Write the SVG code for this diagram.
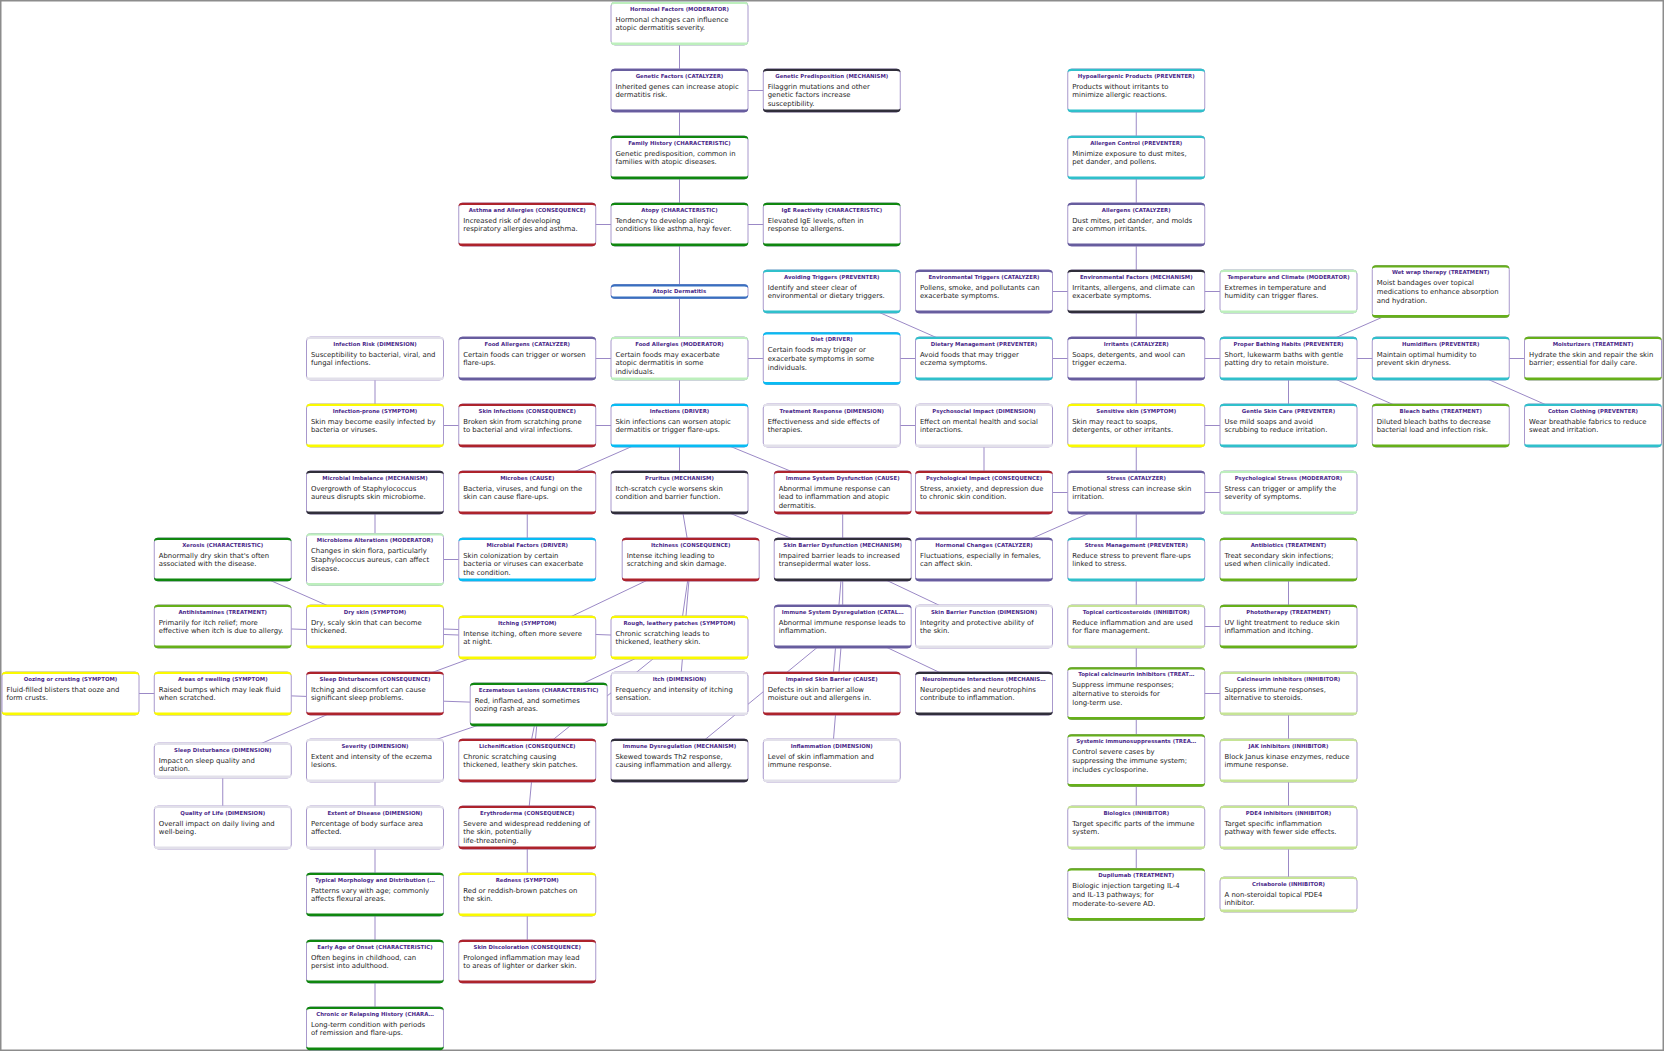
<svg xmlns="http://www.w3.org/2000/svg" width="1664" height="1051" viewBox="0 0 1664 1051">
<style>
.t{font-family:"DejaVu Sans",Verdana,sans-serif;font-size:5.4px;font-weight:bold;fill:#4b2a8a;text-anchor:middle}
.d{font-family:"DejaVu Sans",Verdana,sans-serif;font-size:6.9px;fill:#1e1e1e}
.moderator{fill:#bdefbd}.catalyzer{fill:#675d9e}.mechanism{fill:#302e3b}.characteristic{fill:#0f870f}
.consequence,.cause{fill:#ad232c}.preventer{fill:#30c0cb}.driver{fill:#07bcf3}.symptom{fill:#fafa00}
.dimension{fill:#e2e0ea}.treatment{fill:#66b01a}.inhibitor{fill:#c6e496}.root{fill:#3870c0}
#connectors line{stroke:#9b89c6;stroke-width:1}
</style>
<defs>
<path id="top" d="M0.2,4.2 Q0.2,0.2 4,0.2 H134 Q137.8,0.2 137.8,4.2 Q137.5,2.6 134,2.6 H4 Q0.5,2.6 0.2,4.2 Z"/>
<g id="b44"><rect x=".5" y=".5" width="137" height="43" rx="4" fill="#fff" stroke="#a898cc" stroke-width="1"/><use href="#top"/><path d="M0.2,39.8 Q0.2,43.8 4,43.8 H134 Q137.8,43.8 137.8,39.8 Q137.5,41 134,41 H4 Q0.5,41 0.2,39.8 Z"/></g>
<g id="b53"><rect x=".5" y=".5" width="137" height="52" rx="4" fill="#fff" stroke="#a898cc" stroke-width="1"/><use href="#top"/><path d="M0.2,48.8 Q0.2,52.8 4,52.8 H134 Q137.8,52.8 137.8,48.8 Q137.5,50 134,50 H4 Q0.5,50 0.2,48.8 Z"/></g>
<g id="b36"><rect x=".5" y=".5" width="137" height="35" rx="4" fill="#fff" stroke="#a898cc" stroke-width="1"/><use href="#top"/><path d="M0.2,31.8 Q0.2,35.8 4,35.8 H134 Q137.8,35.8 137.8,31.8 Q137.5,33 134,33 H4 Q0.5,33 0.2,31.8 Z"/></g>
<g id="b15"><rect x=".5" y=".5" width="137" height="14" rx="4" fill="#fff" stroke="#a898cc" stroke-width="1"/><use href="#top"/><path d="M0.2,10.8 Q0.2,14.8 4,14.8 H134 Q137.8,14.8 137.8,10.8 Q137.5,12.6 134,12.6 H4 Q0.5,12.6 0.2,10.8 Z"/></g>
</defs>
<rect x="0.75" y="0.75" width="1662.5" height="1049.5" fill="#fff" stroke="#8c8c8c" stroke-width="1.5"/>
<g id="connectors">
<line x1="679.5" y1="23.5" x2="679.5" y2="90.5"/>
<line x1="679.5" y1="90.5" x2="831.75" y2="90.5"/>
<line x1="679.5" y1="90.5" x2="679.5" y2="157.5"/>
<line x1="679.5" y1="157.5" x2="679.5" y2="224.5"/>
<line x1="527.25" y1="224.5" x2="679.5" y2="224.5"/>
<line x1="679.5" y1="224.5" x2="831.75" y2="224.5"/>
<line x1="679.5" y1="224.5" x2="679.5" y2="291.5"/>
<line x1="679.5" y1="291.5" x2="679.5" y2="358.5"/>
<line x1="1136.25" y1="90.5" x2="1136.25" y2="157.5"/>
<line x1="1136.25" y1="157.5" x2="1136.25" y2="224.5"/>
<line x1="1136.25" y1="224.5" x2="1136.25" y2="291.5"/>
<line x1="984" y1="291.5" x2="1136.25" y2="291.5"/>
<line x1="1136.25" y1="291.5" x2="1288.5" y2="291.5"/>
<line x1="1136.25" y1="291.5" x2="1136.25" y2="358.5"/>
<line x1="831.75" y1="291.5" x2="984" y2="358.5"/>
<line x1="527.25" y1="358.5" x2="679.5" y2="358.5"/>
<line x1="679.5" y1="358.5" x2="831.75" y2="358.5"/>
<line x1="831.75" y1="358.5" x2="984" y2="358.5"/>
<line x1="984" y1="358.5" x2="1136.25" y2="358.5"/>
<line x1="1136.25" y1="358.5" x2="1288.5" y2="358.5"/>
<line x1="1288.5" y1="358.5" x2="1440.75" y2="358.5"/>
<line x1="1440.75" y1="358.5" x2="1593" y2="358.5"/>
<line x1="1288.5" y1="358.5" x2="1440.75" y2="291.5"/>
<line x1="1288.5" y1="358.5" x2="1440.75" y2="425.5"/>
<line x1="1440.75" y1="358.5" x2="1593" y2="425.5"/>
<line x1="1288.5" y1="358.5" x2="1288.5" y2="425.5"/>
<line x1="1136.25" y1="358.5" x2="1136.25" y2="425.5"/>
<line x1="1136.25" y1="425.5" x2="1288.5" y2="425.5"/>
<line x1="375" y1="358.5" x2="375" y2="425.5"/>
<line x1="375" y1="425.5" x2="527.25" y2="425.5"/>
<line x1="527.25" y1="425.5" x2="679.5" y2="425.5"/>
<line x1="679.5" y1="358.5" x2="679.5" y2="425.5"/>
<line x1="679.5" y1="425.5" x2="527.25" y2="492.5"/>
<line x1="679.5" y1="425.5" x2="679.5" y2="492.5"/>
<line x1="679.5" y1="425.5" x2="842.7" y2="492.5"/>
<line x1="831.75" y1="425.5" x2="984" y2="425.5"/>
<line x1="984" y1="425.5" x2="984" y2="492.5"/>
<line x1="1136.25" y1="425.5" x2="1136.25" y2="492.5"/>
<line x1="984" y1="492.5" x2="1136.25" y2="492.5"/>
<line x1="1136.25" y1="492.5" x2="1288.5" y2="492.5"/>
<line x1="375" y1="492.5" x2="375" y2="559.5"/>
<line x1="527.25" y1="492.5" x2="527.25" y2="559.5"/>
<line x1="375" y1="559.5" x2="527.25" y2="559.5"/>
<line x1="679.5" y1="492.5" x2="690.7" y2="559.5"/>
<line x1="679.5" y1="492.5" x2="842.7" y2="559.5"/>
<line x1="842.7" y1="492.5" x2="842.7" y2="559.5"/>
<line x1="1136.25" y1="492.5" x2="984" y2="559.5"/>
<line x1="1136.25" y1="492.5" x2="1136.25" y2="559.5"/>
<line x1="222.75" y1="559.5" x2="375" y2="626.5"/>
<line x1="222.75" y1="626.5" x2="527.25" y2="637.5"/>
<line x1="375" y1="626.5" x2="679.5" y2="637.5"/>
<line x1="690.7" y1="559.5" x2="527.25" y2="637.5"/>
<line x1="690.7" y1="559.5" x2="679.5" y2="637.5"/>
<line x1="690.7" y1="559.5" x2="679.5" y2="693.5"/>
<line x1="842.7" y1="559.5" x2="842.7" y2="626.5"/>
<line x1="842.7" y1="559.5" x2="831.75" y2="693.5"/>
<line x1="842.7" y1="559.5" x2="984" y2="626.5"/>
<line x1="1136.25" y1="559.5" x2="1136.25" y2="626.5"/>
<line x1="1288.5" y1="559.5" x2="1288.5" y2="626.5"/>
<line x1="1136.25" y1="626.5" x2="1288.5" y2="626.5"/>
<line x1="70.5" y1="693.5" x2="222.75" y2="693.5"/>
<line x1="222.75" y1="693.5" x2="538.7" y2="704.5"/>
<line x1="527.25" y1="637.5" x2="375" y2="693.5"/>
<line x1="679.5" y1="637.5" x2="538.7" y2="704.5"/>
<line x1="679.5" y1="637.5" x2="527.25" y2="760.5"/>
<line x1="842.7" y1="626.5" x2="984" y2="693.5"/>
<line x1="842.7" y1="626.5" x2="831.75" y2="760.5"/>
<line x1="679.5" y1="760.5" x2="842.7" y2="626.5"/>
<line x1="1136.25" y1="626.5" x2="1136.25" y2="693.5"/>
<line x1="1136.25" y1="693.5" x2="1288.5" y2="693.5"/>
<line x1="1288.5" y1="693.5" x2="1288.5" y2="760.5"/>
<line x1="1288.5" y1="760.5" x2="1288.5" y2="827.5"/>
<line x1="1288.5" y1="827.5" x2="1288.5" y2="894.5"/>
<line x1="1136.25" y1="693.5" x2="1136.25" y2="760.5"/>
<line x1="1136.25" y1="760.5" x2="1136.25" y2="827.5"/>
<line x1="1136.25" y1="827.5" x2="1136.25" y2="894.5"/>
<line x1="375" y1="693.5" x2="222.75" y2="760.5"/>
<line x1="222.75" y1="760.5" x2="222.75" y2="827.5"/>
<line x1="538.7" y1="704.5" x2="375" y2="760.5"/>
<line x1="375" y1="760.5" x2="375" y2="827.5"/>
<line x1="375" y1="827.5" x2="375" y2="894.5"/>
<line x1="375" y1="894.5" x2="375" y2="961.5"/>
<line x1="375" y1="961.5" x2="375" y2="1028.5"/>
<line x1="538.7" y1="704.5" x2="527.25" y2="760.5"/>
<line x1="538.7" y1="704.5" x2="527.25" y2="827.5"/>
<line x1="527.25" y1="827.5" x2="527.25" y2="894.5"/>
<line x1="527.25" y1="894.5" x2="527.25" y2="961.5"/>
</g>
<g id="nodes">
<g id="hormonal-factors" class="moderator" transform="translate(610.5,1.5)"><use href="#b44"/><text class="t" x="69" y="9.3">Hormonal Factors (MODERATOR)</text><text class="d" y="20"><tspan x="5">Hormonal changes can influence</tspan><tspan x="5" dy="8.9">atopic dermatitis severity.</tspan></text></g>
<g id="genetic-factors" class="catalyzer" transform="translate(610.5,68.5)"><use href="#b44"/><text class="t" x="69" y="9.3">Genetic Factors (CATALYZER)</text><text class="d" y="20"><tspan x="5">Inherited genes can increase atopic</tspan><tspan x="5" dy="8.9">dermatitis risk.</tspan></text></g>
<g id="genetic-predisposition" class="mechanism" transform="translate(762.75,68.5)"><use href="#b44"/><text class="t" x="69" y="9.3">Genetic Predisposition (MECHANISM)</text><text class="d" y="20"><tspan x="5">Filaggrin mutations and other</tspan><tspan x="5" dy="8.9">genetic factors increase</tspan><tspan x="5" dy="8.9">susceptibility.</tspan></text></g>
<g id="hypoallergenic-products" class="preventer" transform="translate(1067.25,68.5)"><use href="#b44"/><text class="t" x="69" y="9.3">Hypoallergenic Products (PREVENTER)</text><text class="d" y="20"><tspan x="5">Products without irritants to</tspan><tspan x="5" dy="8.9">minimize allergic reactions.</tspan></text></g>
<g id="family-history" class="characteristic" transform="translate(610.5,135.5)"><use href="#b44"/><text class="t" x="69" y="9.3">Family History (CHARACTERISTIC)</text><text class="d" y="20"><tspan x="5">Genetic predisposition, common in</tspan><tspan x="5" dy="8.9">families with atopic diseases.</tspan></text></g>
<g id="allergen-control" class="preventer" transform="translate(1067.25,135.5)"><use href="#b44"/><text class="t" x="69" y="9.3">Allergen Control (PREVENTER)</text><text class="d" y="20"><tspan x="5">Minimize exposure to dust mites,</tspan><tspan x="5" dy="8.9">pet dander, and pollens.</tspan></text></g>
<g id="asthma-allergies" class="consequence" transform="translate(458.25,202.5)"><use href="#b44"/><text class="t" x="69" y="9.3">Asthma and Allergies (CONSEQUENCE)</text><text class="d" y="20"><tspan x="5">Increased risk of developing</tspan><tspan x="5" dy="8.9">respiratory allergies and asthma.</tspan></text></g>
<g id="atopy" class="characteristic" transform="translate(610.5,202.5)"><use href="#b44"/><text class="t" x="69" y="9.3">Atopy (CHARACTERISTIC)</text><text class="d" y="20"><tspan x="5">Tendency to develop allergic</tspan><tspan x="5" dy="8.9">conditions like asthma, hay fever.</tspan></text></g>
<g id="ige-reactivity" class="characteristic" transform="translate(762.75,202.5)"><use href="#b44"/><text class="t" x="69" y="9.3">IgE Reactivity (CHARACTERISTIC)</text><text class="d" y="20"><tspan x="5">Elevated IgE levels, often in</tspan><tspan x="5" dy="8.9">response to allergens.</tspan></text></g>
<g id="allergens" class="catalyzer" transform="translate(1067.25,202.5)"><use href="#b44"/><text class="t" x="69" y="9.3">Allergens (CATALYZER)</text><text class="d" y="20"><tspan x="5">Dust mites, pet dander, and molds</tspan><tspan x="5" dy="8.9">are common irritants.</tspan></text></g>
<g id="atopic-dermatitis" class="root" transform="translate(610.5,284)"><use href="#b15"/><text class="t" x="69" y="9.4">Atopic Dermatitis</text></g>
<g id="avoiding-triggers" class="preventer" transform="translate(762.75,269.5)"><use href="#b44"/><text class="t" x="69" y="9.3">Avoiding Triggers (PREVENTER)</text><text class="d" y="20"><tspan x="5">Identify and steer clear of</tspan><tspan x="5" dy="8.9">environmental or dietary triggers.</tspan></text></g>
<g id="environmental-triggers" class="catalyzer" transform="translate(915,269.5)"><use href="#b44"/><text class="t" x="69" y="9.3">Environmental Triggers (CATALYZER)</text><text class="d" y="20"><tspan x="5">Pollens, smoke, and pollutants can</tspan><tspan x="5" dy="8.9">exacerbate symptoms.</tspan></text></g>
<g id="environmental-factors" class="mechanism" transform="translate(1067.25,269.5)"><use href="#b44"/><text class="t" x="69" y="9.3">Environmental Factors (MECHANISM)</text><text class="d" y="20"><tspan x="5">Irritants, allergens, and climate can</tspan><tspan x="5" dy="8.9">exacerbate symptoms.</tspan></text></g>
<g id="temperature-climate" class="moderator" transform="translate(1219.5,269.5)"><use href="#b44"/><text class="t" x="69" y="9.3">Temperature and Climate (MODERATOR)</text><text class="d" y="20"><tspan x="5">Extremes in temperature and</tspan><tspan x="5" dy="8.9">humidity can trigger flares.</tspan></text></g>
<g id="wet-wrap-therapy" class="treatment" transform="translate(1371.75,265)"><use href="#b53"/><text class="t" x="69" y="9.3">Wet wrap therapy (TREATMENT)</text><text class="d" y="20"><tspan x="5">Moist bandages over topical</tspan><tspan x="5" dy="8.9">medications to enhance absorption</tspan><tspan x="5" dy="8.9">and hydration.</tspan></text></g>
<g id="infection-risk" class="dimension" transform="translate(306,336.5)"><use href="#b44"/><text class="t" x="69" y="9.3">Infection Risk (DIMENSION)</text><text class="d" y="20"><tspan x="5">Susceptibility to bacterial, viral, and</tspan><tspan x="5" dy="8.9">fungal infections.</tspan></text></g>
<g id="food-allergens" class="catalyzer" transform="translate(458.25,336.5)"><use href="#b44"/><text class="t" x="69" y="9.3">Food Allergens (CATALYZER)</text><text class="d" y="20"><tspan x="5">Certain foods can trigger or worsen</tspan><tspan x="5" dy="8.9">flare-ups.</tspan></text></g>
<g id="food-allergies" class="moderator" transform="translate(610.5,336.5)"><use href="#b44"/><text class="t" x="69" y="9.3">Food Allergies (MODERATOR)</text><text class="d" y="20"><tspan x="5">Certain foods may exacerbate</tspan><tspan x="5" dy="8.9">atopic dermatitis in some</tspan><tspan x="5" dy="8.9">individuals.</tspan></text></g>
<g id="diet" class="driver" transform="translate(762.75,332)"><use href="#b53"/><text class="t" x="69" y="9.3">Diet (DRIVER)</text><text class="d" y="20"><tspan x="5">Certain foods may trigger or</tspan><tspan x="5" dy="8.9">exacerbate symptoms in some</tspan><tspan x="5" dy="8.9">individuals.</tspan></text></g>
<g id="dietary-management" class="preventer" transform="translate(915,336.5)"><use href="#b44"/><text class="t" x="69" y="9.3">Dietary Management (PREVENTER)</text><text class="d" y="20"><tspan x="5">Avoid foods that may trigger</tspan><tspan x="5" dy="8.9">eczema symptoms.</tspan></text></g>
<g id="irritants" class="catalyzer" transform="translate(1067.25,336.5)"><use href="#b44"/><text class="t" x="69" y="9.3">Irritants (CATALYZER)</text><text class="d" y="20"><tspan x="5">Soaps, detergents, and wool can</tspan><tspan x="5" dy="8.9">trigger eczema.</tspan></text></g>
<g id="proper-bathing-habits" class="preventer" transform="translate(1219.5,336.5)"><use href="#b44"/><text class="t" x="69" y="9.3">Proper Bathing Habits (PREVENTER)</text><text class="d" y="20"><tspan x="5">Short, lukewarm baths with gentle</tspan><tspan x="5" dy="8.9">patting dry to retain moisture.</tspan></text></g>
<g id="humidifiers" class="preventer" transform="translate(1371.75,336.5)"><use href="#b44"/><text class="t" x="69" y="9.3">Humidifiers (PREVENTER)</text><text class="d" y="20"><tspan x="5">Maintain optimal humidity to</tspan><tspan x="5" dy="8.9">prevent skin dryness.</tspan></text></g>
<g id="moisturizers" class="treatment" transform="translate(1524,336.5)"><use href="#b44"/><text class="t" x="69" y="9.3">Moisturizers (TREATMENT)</text><text class="d" y="20"><tspan x="5">Hydrate the skin and repair the skin</tspan><tspan x="5" dy="8.9">barrier; essential for daily care.</tspan></text></g>
<g id="infection-prone" class="symptom" transform="translate(306,403.5)"><use href="#b44"/><text class="t" x="69" y="9.3">Infection-prone (SYMPTOM)</text><text class="d" y="20"><tspan x="5">Skin may become easily infected by</tspan><tspan x="5" dy="8.9">bacteria or viruses.</tspan></text></g>
<g id="skin-infections" class="consequence" transform="translate(458.25,403.5)"><use href="#b44"/><text class="t" x="69" y="9.3">Skin Infections (CONSEQUENCE)</text><text class="d" y="20"><tspan x="5">Broken skin from scratching prone</tspan><tspan x="5" dy="8.9">to bacterial and viral infections.</tspan></text></g>
<g id="infections" class="driver" transform="translate(610.5,403.5)"><use href="#b44"/><text class="t" x="69" y="9.3">Infections (DRIVER)</text><text class="d" y="20"><tspan x="5">Skin infections can worsen atopic</tspan><tspan x="5" dy="8.9">dermatitis or trigger flare-ups.</tspan></text></g>
<g id="treatment-response" class="dimension" transform="translate(762.75,403.5)"><use href="#b44"/><text class="t" x="69" y="9.3">Treatment Response (DIMENSION)</text><text class="d" y="20"><tspan x="5">Effectiveness and side effects of</tspan><tspan x="5" dy="8.9">therapies.</tspan></text></g>
<g id="psychosocial-impact" class="dimension" transform="translate(915,403.5)"><use href="#b44"/><text class="t" x="69" y="9.3">Psychosocial Impact (DIMENSION)</text><text class="d" y="20"><tspan x="5">Effect on mental health and social</tspan><tspan x="5" dy="8.9">interactions.</tspan></text></g>
<g id="sensitive-skin" class="symptom" transform="translate(1067.25,403.5)"><use href="#b44"/><text class="t" x="69" y="9.3">Sensitive skin (SYMPTOM)</text><text class="d" y="20"><tspan x="5">Skin may react to soaps,</tspan><tspan x="5" dy="8.9">detergents, or other irritants.</tspan></text></g>
<g id="gentle-skin-care" class="preventer" transform="translate(1219.5,403.5)"><use href="#b44"/><text class="t" x="69" y="9.3">Gentle Skin Care (PREVENTER)</text><text class="d" y="20"><tspan x="5">Use mild soaps and avoid</tspan><tspan x="5" dy="8.9">scrubbing to reduce irritation.</tspan></text></g>
<g id="bleach-baths" class="treatment" transform="translate(1371.75,403.5)"><use href="#b44"/><text class="t" x="69" y="9.3">Bleach baths (TREATMENT)</text><text class="d" y="20"><tspan x="5">Diluted bleach baths to decrease</tspan><tspan x="5" dy="8.9">bacterial load and infection risk.</tspan></text></g>
<g id="cotton-clothing" class="preventer" transform="translate(1524,403.5)"><use href="#b44"/><text class="t" x="69" y="9.3">Cotton Clothing (PREVENTER)</text><text class="d" y="20"><tspan x="5">Wear breathable fabrics to reduce</tspan><tspan x="5" dy="8.9">sweat and irritation.</tspan></text></g>
<g id="microbial-imbalance" class="mechanism" transform="translate(306,470.5)"><use href="#b44"/><text class="t" x="69" y="9.3">Microbial Imbalance (MECHANISM)</text><text class="d" y="20"><tspan x="5">Overgrowth of Staphylococcus</tspan><tspan x="5" dy="8.9">aureus disrupts skin microbiome.</tspan></text></g>
<g id="microbes" class="cause" transform="translate(458.25,470.5)"><use href="#b44"/><text class="t" x="69" y="9.3">Microbes (CAUSE)</text><text class="d" y="20"><tspan x="5">Bacteria, viruses, and fungi on the</tspan><tspan x="5" dy="8.9">skin can cause flare-ups.</tspan></text></g>
<g id="pruritus" class="mechanism" transform="translate(610.5,470.5)"><use href="#b44"/><text class="t" x="69" y="9.3">Pruritus (MECHANISM)</text><text class="d" y="20"><tspan x="5">Itch-scratch cycle worsens skin</tspan><tspan x="5" dy="8.9">condition and barrier function.</tspan></text></g>
<g id="immune-system-dysfunction" class="cause" transform="translate(773.7,470.5)"><use href="#b44"/><text class="t" x="69" y="9.3">Immune System Dysfunction (CAUSE)</text><text class="d" y="20"><tspan x="5">Abnormal immune response can</tspan><tspan x="5" dy="8.9">lead to inflammation and atopic</tspan><tspan x="5" dy="8.9">dermatitis.</tspan></text></g>
<g id="psychological-impact" class="consequence" transform="translate(915,470.5)"><use href="#b44"/><text class="t" x="69" y="9.3">Psychological Impact (CONSEQUENCE)</text><text class="d" y="20"><tspan x="5">Stress, anxiety, and depression due</tspan><tspan x="5" dy="8.9">to chronic skin condition.</tspan></text></g>
<g id="stress" class="catalyzer" transform="translate(1067.25,470.5)"><use href="#b44"/><text class="t" x="69" y="9.3">Stress (CATALYZER)</text><text class="d" y="20"><tspan x="5">Emotional stress can increase skin</tspan><tspan x="5" dy="8.9">irritation.</tspan></text></g>
<g id="psychological-stress" class="moderator" transform="translate(1219.5,470.5)"><use href="#b44"/><text class="t" x="69" y="9.3">Psychological Stress (MODERATOR)</text><text class="d" y="20"><tspan x="5">Stress can trigger or amplify the</tspan><tspan x="5" dy="8.9">severity of symptoms.</tspan></text></g>
<g id="xerosis" class="characteristic" transform="translate(153.75,537.5)"><use href="#b44"/><text class="t" x="69" y="9.3">Xerosis (CHARACTERISTIC)</text><text class="d" y="20"><tspan x="5">Abnormally dry skin that's often</tspan><tspan x="5" dy="8.9">associated with the disease.</tspan></text></g>
<g id="microbiome-alterations" class="moderator" transform="translate(306,533)"><use href="#b53"/><text class="t" x="69" y="9.3">Microbiome Alterations (MODERATOR)</text><text class="d" y="20"><tspan x="5">Changes in skin flora, particularly</tspan><tspan x="5" dy="8.9">Staphylococcus aureus, can affect</tspan><tspan x="5" dy="8.9">disease.</tspan></text></g>
<g id="microbial-factors" class="driver" transform="translate(458.25,537.5)"><use href="#b44"/><text class="t" x="69" y="9.3">Microbial Factors (DRIVER)</text><text class="d" y="20"><tspan x="5">Skin colonization by certain</tspan><tspan x="5" dy="8.9">bacteria or viruses can exacerbate</tspan><tspan x="5" dy="8.9">the condition.</tspan></text></g>
<g id="itchiness" class="consequence" transform="translate(621.7,537.5)"><use href="#b44"/><text class="t" x="69" y="9.3">Itchiness (CONSEQUENCE)</text><text class="d" y="20"><tspan x="5">Intense itching leading to</tspan><tspan x="5" dy="8.9">scratching and skin damage.</tspan></text></g>
<g id="skin-barrier-dysfunction" class="mechanism" transform="translate(773.7,537.5)"><use href="#b44"/><text class="t" x="69" y="9.3">Skin Barrier Dysfunction (MECHANISM)</text><text class="d" y="20"><tspan x="5">Impaired barrier leads to increased</tspan><tspan x="5" dy="8.9">transepidermal water loss.</tspan></text></g>
<g id="hormonal-changes" class="catalyzer" transform="translate(915,537.5)"><use href="#b44"/><text class="t" x="69" y="9.3">Hormonal Changes (CATALYZER)</text><text class="d" y="20"><tspan x="5">Fluctuations, especially in females,</tspan><tspan x="5" dy="8.9">can affect skin.</tspan></text></g>
<g id="stress-management" class="preventer" transform="translate(1067.25,537.5)"><use href="#b44"/><text class="t" x="69" y="9.3">Stress Management (PREVENTER)</text><text class="d" y="20"><tspan x="5">Reduce stress to prevent flare-ups</tspan><tspan x="5" dy="8.9">linked to stress.</tspan></text></g>
<g id="antibiotics" class="treatment" transform="translate(1219.5,537.5)"><use href="#b44"/><text class="t" x="69" y="9.3">Antibiotics (TREATMENT)</text><text class="d" y="20"><tspan x="5">Treat secondary skin infections;</tspan><tspan x="5" dy="8.9">used when clinically indicated.</tspan></text></g>
<g id="antihistamines" class="treatment" transform="translate(153.75,604.5)"><use href="#b44"/><text class="t" x="69" y="9.3">Antihistamines (TREATMENT)</text><text class="d" y="20"><tspan x="5">Primarily for itch relief; more</tspan><tspan x="5" dy="8.9">effective when itch is due to allergy.</tspan></text></g>
<g id="dry-skin" class="symptom" transform="translate(306,604.5)"><use href="#b44"/><text class="t" x="69" y="9.3">Dry skin (SYMPTOM)</text><text class="d" y="20"><tspan x="5">Dry, scaly skin that can become</tspan><tspan x="5" dy="8.9">thickened.</tspan></text></g>
<g id="itching" class="symptom" transform="translate(458.25,615.5)"><use href="#b44"/><text class="t" x="69" y="9.3">Itching (SYMPTOM)</text><text class="d" y="20"><tspan x="5">Intense itching, often more severe</tspan><tspan x="5" dy="8.9">at night.</tspan></text></g>
<g id="rough-leathery-patches" class="symptom" transform="translate(610.5,615.5)"><use href="#b44"/><text class="t" x="69" y="9.3">Rough, leathery patches (SYMPTOM)</text><text class="d" y="20"><tspan x="5">Chronic scratching leads to</tspan><tspan x="5" dy="8.9">thickened, leathery skin.</tspan></text></g>
<g id="immune-system-dysregulation" class="catalyzer" transform="translate(773.7,604.5)"><use href="#b44"/><text class="t" x="69" y="9.3">Immune System Dysregulation (CATAL…</text><text class="d" y="20"><tspan x="5">Abnormal immune response leads to</tspan><tspan x="5" dy="8.9">inflammation.</tspan></text></g>
<g id="skin-barrier-function" class="dimension" transform="translate(915,604.5)"><use href="#b44"/><text class="t" x="69" y="9.3">Skin Barrier Function (DIMENSION)</text><text class="d" y="20"><tspan x="5">Integrity and protective ability of</tspan><tspan x="5" dy="8.9">the skin.</tspan></text></g>
<g id="topical-corticosteroids" class="inhibitor" transform="translate(1067.25,604.5)"><use href="#b44"/><text class="t" x="69" y="9.3">Topical corticosteroids (INHIBITOR)</text><text class="d" y="20"><tspan x="5">Reduce inflammation and are used</tspan><tspan x="5" dy="8.9">for flare management.</tspan></text></g>
<g id="phototherapy" class="treatment" transform="translate(1219.5,604.5)"><use href="#b44"/><text class="t" x="69" y="9.3">Phototherapy (TREATMENT)</text><text class="d" y="20"><tspan x="5">UV light treatment to reduce skin</tspan><tspan x="5" dy="8.9">inflammation and itching.</tspan></text></g>
<g id="oozing-crusting" class="symptom" transform="translate(1.5,671.5)"><use href="#b44"/><text class="t" x="69" y="9.3">Oozing or crusting (SYMPTOM)</text><text class="d" y="20"><tspan x="5">Fluid-filled blisters that ooze and</tspan><tspan x="5" dy="8.9">form crusts.</tspan></text></g>
<g id="areas-of-swelling" class="symptom" transform="translate(153.75,671.5)"><use href="#b44"/><text class="t" x="69" y="9.3">Areas of swelling (SYMPTOM)</text><text class="d" y="20"><tspan x="5">Raised bumps which may leak fluid</tspan><tspan x="5" dy="8.9">when scratched.</tspan></text></g>
<g id="sleep-disturbances" class="consequence" transform="translate(306,671.5)"><use href="#b44"/><text class="t" x="69" y="9.3">Sleep Disturbances (CONSEQUENCE)</text><text class="d" y="20"><tspan x="5">Itching and discomfort can cause</tspan><tspan x="5" dy="8.9">significant sleep problems.</tspan></text></g>
<g id="eczematous-lesions" class="characteristic" transform="translate(469.7,682.5)"><use href="#b44"/><text class="t" x="69" y="9.3">Eczematous Lesions (CHARACTERISTIC)</text><text class="d" y="20"><tspan x="5">Red, inflamed, and sometimes</tspan><tspan x="5" dy="8.9">oozing rash areas.</tspan></text></g>
<g id="itch" class="dimension" transform="translate(610.5,671.5)"><use href="#b44"/><text class="t" x="69" y="9.3">Itch (DIMENSION)</text><text class="d" y="20"><tspan x="5">Frequency and intensity of itching</tspan><tspan x="5" dy="8.9">sensation.</tspan></text></g>
<g id="impaired-skin-barrier" class="cause" transform="translate(762.75,671.5)"><use href="#b44"/><text class="t" x="69" y="9.3">Impaired Skin Barrier (CAUSE)</text><text class="d" y="20"><tspan x="5">Defects in skin barrier allow</tspan><tspan x="5" dy="8.9">moisture out and allergens in.</tspan></text></g>
<g id="neuroimmune-interactions" class="mechanism" transform="translate(915,671.5)"><use href="#b44"/><text class="t" x="69" y="9.3">Neuroimmune Interactions (MECHANIS…</text><text class="d" y="20"><tspan x="5">Neuropeptides and neurotrophins</tspan><tspan x="5" dy="8.9">contribute to inflammation.</tspan></text></g>
<g id="topical-calcineurin-inhibitors" class="treatment" transform="translate(1067.25,667)"><use href="#b53"/><text class="t" x="69" y="9.3">Topical calcineurin inhibitors (TREAT…</text><text class="d" y="20"><tspan x="5">Suppress immune responses;</tspan><tspan x="5" dy="8.9">alternative to steroids for</tspan><tspan x="5" dy="8.9">long-term use.</tspan></text></g>
<g id="calcineurin-inhibitors" class="inhibitor" transform="translate(1219.5,671.5)"><use href="#b44"/><text class="t" x="69" y="9.3">Calcineurin inhibitors (INHIBITOR)</text><text class="d" y="20"><tspan x="5">Suppress immune responses,</tspan><tspan x="5" dy="8.9">alternative to steroids.</tspan></text></g>
<g id="sleep-disturbance" class="dimension" transform="translate(153.75,742.5)"><use href="#b36"/><text class="t" x="69" y="9.3">Sleep Disturbance (DIMENSION)</text><text class="d" y="20"><tspan x="5">Impact on sleep quality and</tspan><tspan x="5" dy="8.9">duration.</tspan></text></g>
<g id="severity" class="dimension" transform="translate(306,738.5)"><use href="#b44"/><text class="t" x="69" y="9.3">Severity (DIMENSION)</text><text class="d" y="20"><tspan x="5">Extent and intensity of the eczema</tspan><tspan x="5" dy="8.9">lesions.</tspan></text></g>
<g id="lichenification" class="consequence" transform="translate(458.25,738.5)"><use href="#b44"/><text class="t" x="69" y="9.3">Lichenification (CONSEQUENCE)</text><text class="d" y="20"><tspan x="5">Chronic scratching causing</tspan><tspan x="5" dy="8.9">thickened, leathery skin patches.</tspan></text></g>
<g id="immune-dysregulation" class="mechanism" transform="translate(610.5,738.5)"><use href="#b44"/><text class="t" x="69" y="9.3">Immune Dysregulation (MECHANISM)</text><text class="d" y="20"><tspan x="5">Skewed towards Th2 response,</tspan><tspan x="5" dy="8.9">causing inflammation and allergy.</tspan></text></g>
<g id="inflammation" class="dimension" transform="translate(762.75,738.5)"><use href="#b44"/><text class="t" x="69" y="9.3">Inflammation (DIMENSION)</text><text class="d" y="20"><tspan x="5">Level of skin inflammation and</tspan><tspan x="5" dy="8.9">immune response.</tspan></text></g>
<g id="systemic-immunosuppressants" class="treatment" transform="translate(1067.25,734)"><use href="#b53"/><text class="t" x="69" y="9.3">Systemic immunosuppressants (TREA…</text><text class="d" y="20"><tspan x="5">Control severe cases by</tspan><tspan x="5" dy="8.9">suppressing the immune system;</tspan><tspan x="5" dy="8.9">includes cyclosporine.</tspan></text></g>
<g id="jak-inhibitors" class="inhibitor" transform="translate(1219.5,738.5)"><use href="#b44"/><text class="t" x="69" y="9.3">JAK inhibitors (INHIBITOR)</text><text class="d" y="20"><tspan x="5">Block Janus kinase enzymes, reduce</tspan><tspan x="5" dy="8.9">immune response.</tspan></text></g>
<g id="quality-of-life" class="dimension" transform="translate(153.75,805.5)"><use href="#b44"/><text class="t" x="69" y="9.3">Quality of Life (DIMENSION)</text><text class="d" y="20"><tspan x="5">Overall impact on daily living and</tspan><tspan x="5" dy="8.9">well-being.</tspan></text></g>
<g id="extent-of-disease" class="dimension" transform="translate(306,805.5)"><use href="#b44"/><text class="t" x="69" y="9.3">Extent of Disease (DIMENSION)</text><text class="d" y="20"><tspan x="5">Percentage of body surface area</tspan><tspan x="5" dy="8.9">affected.</tspan></text></g>
<g id="erythroderma" class="consequence" transform="translate(458.25,805.5)"><use href="#b44"/><text class="t" x="69" y="9.3">Erythroderma (CONSEQUENCE)</text><text class="d" y="20"><tspan x="5">Severe and widespread reddening of</tspan><tspan x="5" dy="8.9">the skin, potentially</tspan><tspan x="5" dy="8.9">life-threatening.</tspan></text></g>
<g id="biologics" class="inhibitor" transform="translate(1067.25,805.5)"><use href="#b44"/><text class="t" x="69" y="9.3">Biologics (INHIBITOR)</text><text class="d" y="20"><tspan x="5">Target specific parts of the immune</tspan><tspan x="5" dy="8.9">system.</tspan></text></g>
<g id="pde4-inhibitors" class="inhibitor" transform="translate(1219.5,805.5)"><use href="#b44"/><text class="t" x="69" y="9.3">PDE4 inhibitors (INHIBITOR)</text><text class="d" y="20"><tspan x="5">Target specific inflammation</tspan><tspan x="5" dy="8.9">pathway with fewer side effects.</tspan></text></g>
<g id="typical-morphology" class="characteristic" transform="translate(306,872.5)"><use href="#b44"/><text class="t" x="69" y="9.3">Typical Morphology and Distribution (…</text><text class="d" y="20"><tspan x="5">Patterns vary with age; commonly</tspan><tspan x="5" dy="8.9">affects flexural areas.</tspan></text></g>
<g id="redness" class="symptom" transform="translate(458.25,872.5)"><use href="#b44"/><text class="t" x="69" y="9.3">Redness (SYMPTOM)</text><text class="d" y="20"><tspan x="5">Red or reddish-brown patches on</tspan><tspan x="5" dy="8.9">the skin.</tspan></text></g>
<g id="dupilumab" class="treatment" transform="translate(1067.25,868)"><use href="#b53"/><text class="t" x="69" y="9.3">Dupilumab (TREATMENT)</text><text class="d" y="20"><tspan x="5">Biologic injection targeting IL-4</tspan><tspan x="5" dy="8.9">and IL-13 pathways; for</tspan><tspan x="5" dy="8.9">moderate-to-severe AD.</tspan></text></g>
<g id="crisaborole" class="inhibitor" transform="translate(1219.5,876.5)"><use href="#b36"/><text class="t" x="69" y="9.3">Crisaborole (INHIBITOR)</text><text class="d" y="20"><tspan x="5">A non-steroidal topical PDE4</tspan><tspan x="5" dy="8.9">inhibitor.</tspan></text></g>
<g id="early-age-of-onset" class="characteristic" transform="translate(306,939.5)"><use href="#b44"/><text class="t" x="69" y="9.3">Early Age of Onset (CHARACTERISTIC)</text><text class="d" y="20"><tspan x="5">Often begins in childhood, can</tspan><tspan x="5" dy="8.9">persist into adulthood.</tspan></text></g>
<g id="skin-discoloration" class="consequence" transform="translate(458.25,939.5)"><use href="#b44"/><text class="t" x="69" y="9.3">Skin Discoloration (CONSEQUENCE)</text><text class="d" y="20"><tspan x="5">Prolonged inflammation may lead</tspan><tspan x="5" dy="8.9">to areas of lighter or darker skin.</tspan></text></g>
<g id="chronic-relapsing-history" class="characteristic" transform="translate(306,1006.5)"><use href="#b44"/><text class="t" x="69" y="9.3">Chronic or Relapsing History (CHARA…</text><text class="d" y="20"><tspan x="5">Long-term condition with periods</tspan><tspan x="5" dy="8.9">of remission and flare-ups.</tspan></text></g>
</g>
</svg>
